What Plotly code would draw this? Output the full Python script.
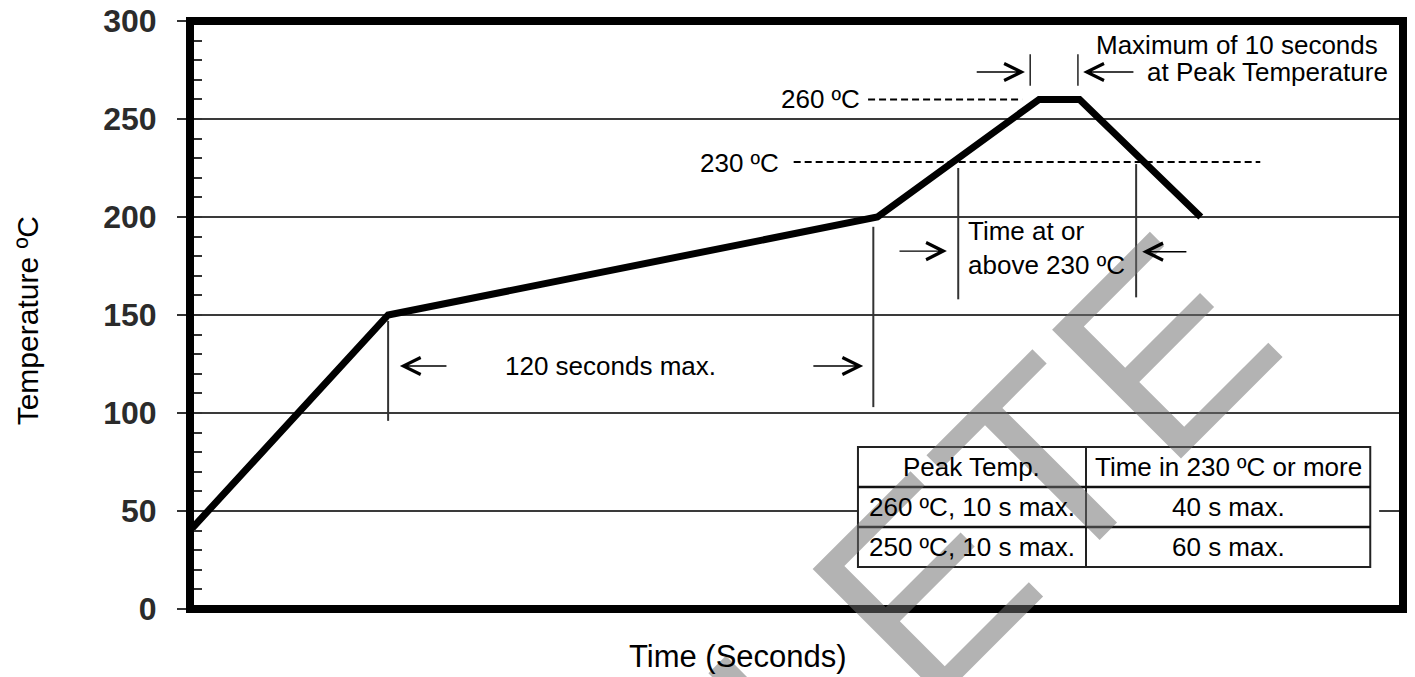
import plotly.graph_objects as go

# ---------------- data ----------------
profile_time = [0, 49, 170, 210, 220, 250]          # seconds
profile_temp = [40, 150, 200, 260, 260, 200]        # ºC

y_tick_vals = [0, 50, 100, 150, 200, 250, 300]

peak_level = 260
liquidus_level = 228            # dashed "230 ºC" line as drawn
peak_line_span = [167.7, 205.8]
liq_line_span = [149.3, 264.7]

# vertical marker lines
marker_times = [49, 169, 190, 234]
marker_low = [96, 103, 158, 159]
marker_high = [147, 195, 225, 227]

# "|" bars around the peak plateau
peak_bar_times = [207.8, 219.6]
peak_bar_low, peak_bar_high = 267, 283

# arrows (head, tail, level)
arrow_head_t = [51.9, 166.5, 187.2, 235.5, 206.5, 220.9]
arrow_tail_t = [63.8, 153.8, 175.1, 246.8, 194.2, 233.7]
arrow_temp = [124, 124, 182.6, 182.3, 274, 274]

# text labels
label_text = ["120 seconds max.", "260 ºC", "230 ºC", "Time at or<br>above 230 ºC",
              "Maximum of 10 seconds", "at Peak Temperature"]
label_t = [104, 166.2, 146.2, 191.9, 294.3, 296.8]
label_temp = [124, 260, 227.6, 184.2, 287.8, 274]
label_anchor = ["center", "right", "right", "left", "right", "right"]

# table
table_header = ["Peak Temp.", "Time in 230 ºC or more"]
table_peak = ["260 ºC, 10 s max.", "250 ºC, 10 s max."]
table_time = ["40 s max.", "60 s max."]

watermark_text = "OBSOLETE"

# ---------------- layout constants ----------------
FONT = "Liberation Sans, Arial, sans-serif"
tbl_x = [165.2, 221.6, 291.9]
tbl_y = [82.7, 62.2, 41.8, 21.4]
tbl_bg_right = 294.1

fig = go.Figure()

fig.add_trace(go.Scatter(
    x=profile_time, y=profile_temp, mode="lines",
    line=dict(color="black", width=7), hoverinfo="skip", showlegend=False,
))

shapes = []
# table background (hides the grid line)
shapes.append(dict(type="rect", xref="x", yref="y", x0=tbl_x[0], x1=tbl_bg_right,
                   y0=tbl_y[-1] - 1, y1=tbl_y[0] + 1, fillcolor="white",
                   line=dict(width=0), layer="above"))
# table grid
shapes.append(dict(type="rect", xref="x", yref="y", x0=tbl_x[0], x1=tbl_x[-1],
                   y0=tbl_y[-1], y1=tbl_y[0], line=dict(color="#222", width=2),
                   layer="above"))
shapes.append(dict(type="line", xref="x", yref="y", x0=tbl_x[1], x1=tbl_x[1],
                   y0=tbl_y[-1], y1=tbl_y[0], line=dict(color="#222", width=2),
                   layer="above"))
for yy in tbl_y[1:-1]:
    shapes.append(dict(type="line", xref="x", yref="y", x0=tbl_x[0], x1=tbl_x[-1],
                       y0=yy, y1=yy, line=dict(color="#111", width=2.5), layer="above"))

# dashed reference levels
shapes.append(dict(type="line", xref="x", yref="y", x0=peak_line_span[0], x1=peak_line_span[1],
                   y0=peak_level, y1=peak_level,
                   line=dict(color="black", width=2, dash="7px,4px"), layer="above"))
shapes.append(dict(type="line", xref="x", yref="y", x0=liq_line_span[0], x1=liq_line_span[1],
                   y0=liquidus_level, y1=liquidus_level,
                   line=dict(color="black", width=2, dash="7px,4px"), layer="above"))

# vertical markers
for t, lo, hi in zip(marker_times, marker_low, marker_high):
    shapes.append(dict(type="line", xref="x", yref="y", x0=t, x1=t, y0=lo, y1=hi,
                       line=dict(color="#333", width=2), layer="above"))
for t in peak_bar_times:
    shapes.append(dict(type="line", xref="x", yref="y", x0=t, x1=t,
                       y0=peak_bar_low, y1=peak_bar_high,
                       line=dict(color="#222", width=1.5), layer="above"))

# thick frame
shapes.append(dict(type="rect", xref="paper", yref="paper", x0=0, x1=1, y0=0, y1=1,
                   line=dict(color="black", width=8), layer="above"))

annotations = []
# watermark (only its end is inside the picture)
annotations.append(dict(x=0.4372, y=-0.3056, xref="paper", yref="paper", text=watermark_text,
                        showarrow=False, textangle=-45,
                        font=dict(family=FONT, size=265, color="rgba(110,110,110,0.52)"),
                        xanchor="center", yanchor="middle"))

# arrows
for h, tl, yy in zip(arrow_head_t, arrow_tail_t, arrow_temp):
    annotations.append(dict(x=h, y=yy, xref="x", yref="y", ax=tl, ay=yy,
                            axref="x", ayref="y", text="", showarrow=True,
                            arrowhead=5, arrowsize=2.4, arrowwidth=1.4,
                            arrowcolor="black", standoff=0, startstandoff=0))

# labels
for txt, t, yy, anc in zip(label_text, label_t, label_temp, label_anchor):
    annotations.append(dict(x=t, y=yy, xref="x", yref="y", text=txt, showarrow=False,
                            xanchor=anc, yanchor="middle", align=anc,
                            font=dict(family=FONT, size=26, color="black")))

# table text
cx = [(tbl_x[0] + tbl_x[1]) / 2, (tbl_x[1] + tbl_x[2]) / 2]
row_mid = [(tbl_y[i] + tbl_y[i + 1]) / 2 for i in range(3)]
for j, txt in enumerate(table_header):
    annotations.append(dict(x=cx[j], y=row_mid[0], xref="x", yref="y", text=txt,
                            showarrow=False, font=dict(family=FONT, size=26, color="black")))
for i in range(2):
    annotations.append(dict(x=cx[0], y=row_mid[i + 1], xref="x", yref="y", text=table_peak[i],
                            showarrow=False, font=dict(family=FONT, size=26, color="black")))
    annotations.append(dict(x=cx[1], y=row_mid[i + 1], xref="x", yref="y", text=table_time[i],
                            showarrow=False, font=dict(family=FONT, size=26, color="black")))

# axis titles
annotations.append(dict(x=0.452, y=-0.08, xref="paper", yref="paper", text="Time (Seconds)",
                        showarrow=False, xanchor="center", yanchor="middle",
                        font=dict(family=FONT, size=31, color="black")))
annotations.append(dict(x=-0.134, y=0.49, xref="paper", yref="paper", text="Temperature ºC",
                        showarrow=False, textangle=-90, xanchor="center", yanchor="middle",
                        font=dict(family=FONT, size=30, color="black")))

fig.update_layout(
    width=1415, height=677,
    margin=dict(l=190, r=12, t=21, b=68, autoexpand=False),
    paper_bgcolor="white", plot_bgcolor="white",
    showlegend=False,
    shapes=shapes, annotations=annotations,
    xaxis=dict(range=[0, 300], showticklabels=False, ticks="", showgrid=False,
               zeroline=False, showline=False, fixedrange=True, automargin=False),
    yaxis=dict(range=[0, 300], tickvals=y_tick_vals, ticks="outside", ticklen=12,
               tickwidth=2, tickcolor="#333", showgrid=True, gridcolor="#3a3a3a",
               gridwidth=2, zeroline=False, showline=False, ticklabelstandoff=14,
               tickfont=dict(family=FONT, size=32, color="#2b2b2b", weight="bold"),
               minor=dict(dtick=10, ticks="inside", ticklen=12, tickwidth=2,
                          tickcolor="#333", showgrid=False),
               fixedrange=True, automargin=False),
)

fig.write_html("out.html", config={"displayModeBar": False},
               post_script="document.body.style.margin='0';document.body.style.overflow='hidden';")
